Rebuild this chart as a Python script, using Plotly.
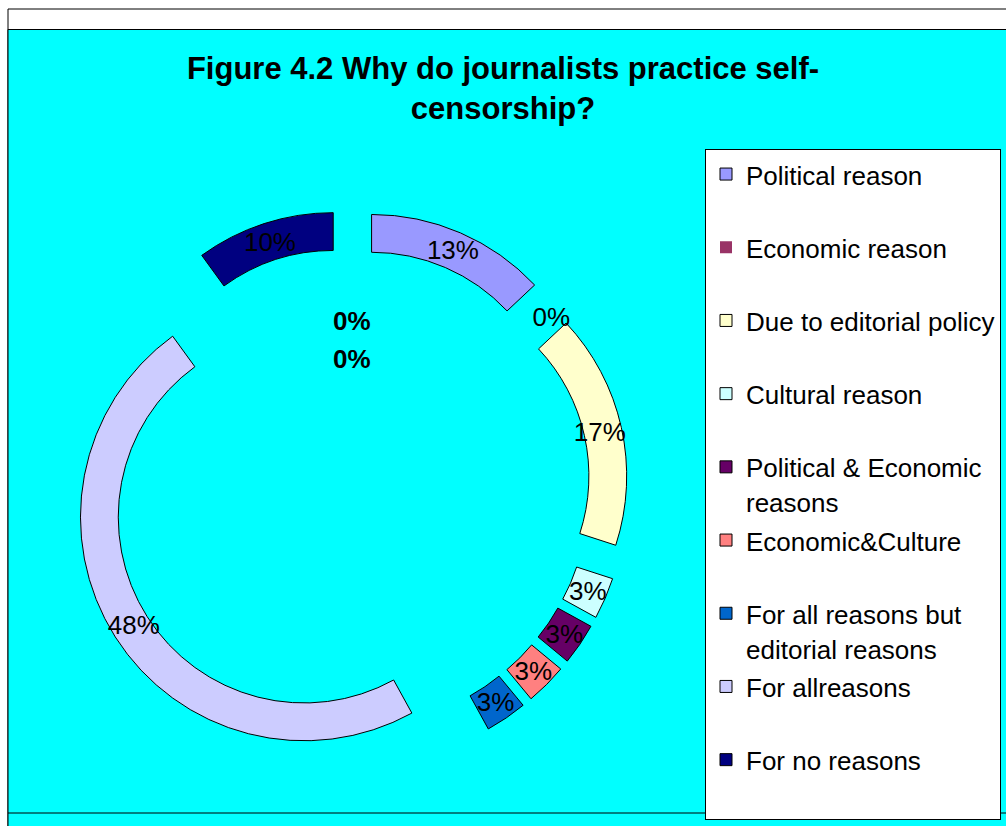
import plotly.graph_objects as go

# ---- data ----
categories = ["Political reason", "Economic reason", "Due to editorial policy",
              "Cultural reason", "Political & Economic reasons", "Economic&Culture",
              "For all reasons but editorial reasons", "For allreasons", "For no reasons"]
legend_text = ["Political reason", "Economic reason", "Due to editorial policy",
               "Cultural reason", "Political & Economic<br>reasons", "Economic&Culture",
               "For all reasons but<br>editorial reasons", "For allreasons", "For no reasons"]
values = [13, 0, 17, 3, 3, 3, 3, 48, 10]
colors = ["#9999FF", "#993366", "#FFFFCC", "#CCFFFF", "#660066",
          "#FF8080", "#0066CC", "#CCCCFF", "#000080"]
center_labels = ["0%", "0%"]

W, H = 1006, 826
def px(x): return x / W
def py(y): return 1 - y / H

# every legend entry takes two lines so entries are evenly spaced
def legend_label(t):
    lines = t.split("<br>")
    if len(lines) == 1:
        lines.append(" ")
    return "<br>".join("<span style='font-size:26px'>%s</span>" % l for l in lines)

labels = [legend_label(t) for t in legend_text]

# slices whose arc spans a quarter mark get their label from a helper pie
# (plotly would otherwise move a horizontal label to the crossing point)
total = float(sum(values))
crosses = []
acc = 0.0
for v in values:
    s = 360 * acc / total
    e = 360 * (acc + v) / total
    crosses.append(any(s < k * 90 < e for k in range(5)))
    acc += v

PCT = "%{percent:.0%}"
pos_a, tpl_a, pos_b, tpl_b, pos_c, tpl_c, line_w = [], [], [], [], [], [], []
for v, c in zip(values, crosses):
    a = v > 0 and not c
    b = v > 0 and c
    z = v == 0
    pos_a.append("inside" if a else "none"); tpl_a.append(PCT if a else "")
    pos_b.append("inside" if b else "none"); tpl_b.append(PCT if b else "")
    pos_c.append("outside" if z else "none"); tpl_c.append(PCT if z else "")
    line_w.append(0 if v == 0 else 1)

font_in = dict(family="Arial", size=26, color="#000000")
clear = ["rgba(0,0,0,0)"] * len(values)

ring = go.Pie(
    labels=labels, values=values,
    marker=dict(colors=colors, line=dict(color="#000000", width=line_w)),
    hole=0.831, pull=0.243, sort=False, direction="clockwise", rotation=0,
    textinfo="none", texttemplate=tpl_a, textposition=pos_a,
    insidetextorientation="horizontal",
    insidetextfont=font_in,
    domain=dict(x=[px(72), px(628)], y=[py(766), py(210)]),
    hoverinfo="label+percent",
)

helper_in = go.Pie(
    labels=labels, values=values,
    marker=dict(colors=clear, line=dict(width=0)),
    hole=0.683, pull=0.225, sort=False, direction="clockwise", rotation=0,
    textinfo="none", texttemplate=tpl_b, textposition=pos_b,
    insidetextorientation="horizontal",
    insidetextfont=font_in,
    domain=dict(x=[px(56), px(644)], y=[py(782), py(194)]),
    showlegend=False, hoverinfo="skip",
)

helper_out = go.Pie(
    labels=labels, values=values,
    marker=dict(colors=clear, line=dict(width=0)),
    hole=0.9, sort=False, direction="clockwise", rotation=0,
    textinfo="none", texttemplate=tpl_c, textposition=pos_c,
    outsidetextfont=font_in,
    domain=dict(x=[px(110), px(590)], y=[py(728), py(248)]),
    showlegend=False, hoverinfo="skip",
)

fig = go.Figure([ring, helper_in, helper_out])

shapes = [
    dict(type="rect", xref="paper", yref="paper", x0=px(8), x1=px(1012), y0=py(9), y1=py(832),
         fillcolor="#FFFFFF", line=dict(color="#000000", width=1), layer="below"),
    dict(type="rect", xref="paper", yref="paper", x0=px(8), x1=px(1012), y0=py(29.5), y1=py(832),
         fillcolor="#00FFFF", line=dict(color="#000000", width=1), layer="below"),
    dict(type="line", xref="paper", yref="paper", x0=px(8), x1=px(1012), y0=py(813), y1=py(813),
         line=dict(color="#000000", width=1), layer="below"),
]

annotations = []
for i, t in enumerate(center_labels):
    annotations.append(dict(text="<b>" + t + "</b>", x=px(352), y=py(321 + 38 * i),
                            xref="paper", yref="paper", showarrow=False,
                            font=dict(family="Arial", size=26, color="#000000")))

fig.update_layout(
    width=W, height=H,
    margin=dict(l=0, r=0, t=0, b=0, autoexpand=False),
    paper_bgcolor="#FFFFFF",
    shapes=shapes,
    annotations=annotations,
    title=dict(text="<b>Figure 4.2 Why do journalists practice self-<br>censorship?</b>",
               x=0.5, xanchor="center", y=py(78.5), yanchor="middle", yref="container",
               font=dict(family="Arial", size=31, color="#000000")),
    legend=dict(x=px(705), y=py(149), xanchor="left", yanchor="top",
                bgcolor="#FFFFFF", bordercolor="#000000", borderwidth=1,
                font=dict(family="Arial", size=27, color="#000000"),
                valign="top", traceorder="normal"),
    uniformtext=dict(minsize=26, mode="show"),
    showlegend=True,
)

fig.write_html("out.html", config={"displayModeBar": False},
               post_script="document.body.style.margin='0px';")
